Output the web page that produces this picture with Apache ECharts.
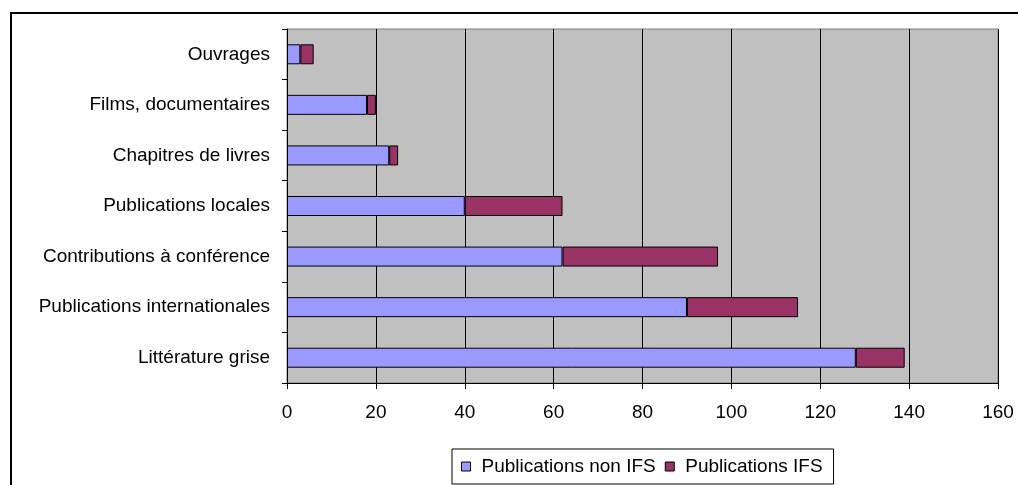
<!DOCTYPE html>
<html>
<head>
<meta charset="utf-8">
<script src="https://cdn.jsdelivr.net/npm/echarts@6/dist/echarts.min.js"></script>
<style>
html,body{margin:0;padding:0;background:#fff;}
#c{width:1018px;height:485px;}
</style>
</head>
<body>
<div id="c"></div>
<script>
var categories = ["Ouvrages", "Films, documentaires", "Chapitres de livres", "Publications locales", "Contributions à conférence", "Publications internationales", "Littérature grise"];
var nonIFS = [3, 18, 23, 40, 62, 90, 128];
var ifs = [3, 2, 2, 22, 35, 25, 11];
var seriesNames = ["Publications non IFS", "Publications IFS"];
var xTicks = {min: 0, max: 160, interval: 20};

var chart = echarts.init(document.getElementById('c'));
var font = 'Arial, "Liberation Sans", sans-serif';
chart.setOption({
  animation: false,
  backgroundColor: '#fff',
  graphic: [{
    type: 'rect', z: -10,
    shape: {x: 11, y: 13, width: 1030, height: 500},
    style: {fill: 'none', stroke: '#000', lineWidth: 2}
  }],
  grid: {
    left: 287, right: 20, top: 29, bottom: 102,
    show: true, backgroundColor: '#C0C0C0', borderColor: '#808080', borderWidth: 1
  },
  legend: {
    left: 452, top: 449,
    icon: 'rect',
    itemWidth: 9, itemHeight: 9, itemGap: 9,
    padding: [8, 11, 8, 9],
    borderColor: '#000', borderWidth: 1,
    itemStyle: {borderColor: '#000', borderWidth: 1},
    textStyle: {fontFamily: font, fontSize: 19, color: '#000', padding: [0, 0, 0, 6]},
    data: seriesNames
  },
  xAxis: {
    type: 'value', min: xTicks.min, max: xTicks.max, interval: xTicks.interval,
    axisLine: {show: true, lineStyle: {color: '#000', width: 1}},
    axisTick: {show: true, length: 6, lineStyle: {color: '#000'}},
    splitLine: {show: true, lineStyle: {color: '#000', width: 1}},
    axisLabel: {fontFamily: font, fontSize: 19, color: '#000', margin: 20}
  },
  yAxis: {
    type: 'category', data: categories, inverse: true,
    axisLine: {show: true, lineStyle: {color: '#000', width: 1}},
    axisTick: {show: true, length: 5, interval: 0, lineStyle: {color: '#000'}},
    axisLabel: {fontFamily: font, fontSize: 19, color: '#000', margin: 17}
  },
  series: [
    {name: seriesNames[0], type: 'bar', stack: 's', data: nonIFS, barWidth: 20,
     itemStyle: {color: '#9999FF', borderColor: '#000', borderWidth: 1}},
    {name: seriesNames[1], type: 'bar', stack: 's', data: ifs, barWidth: 20,
     itemStyle: {color: '#993366', borderColor: '#000', borderWidth: 1}}
  ]
});
</script>
</body>
</html>
